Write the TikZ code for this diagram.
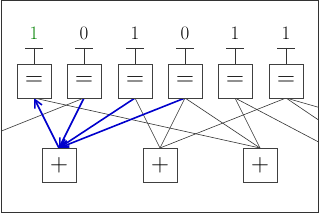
\documentclass[tikz,border=0pt]{standalone}
\usetikzlibrary{arrows.meta}
\begin{document}
\begin{tikzpicture}[x=1pt,y=-1pt,
  eqbox/.style={draw=black!75,line width=0.8pt,minimum size=34pt,inner sep=0pt,fill=white},
  chkbox/.style={draw=black!75,line width=0.8pt,minimum size=34pt,inner sep=0pt,fill=white},
  sym/.style={font=\fontsize{26}{26}\selectfont},
  bit/.style={font=\fontsize{19}{19}\selectfont},
  edge/.style={black!80,line width=0.6pt},
  msg/.style={blue!80!black,line width=1.6pt,-{Straight Barb[length=8pt,width=8pt]}},
  stem/.style={black!80,line width=0.8pt}]
\useasboundingbox (0,0) rectangle (320,213);
\draw[black!80,line width=0.8pt] (1,0.5) rectangle (318.5,212);
\foreach \i/\x/\b/\c in {1/34/1/green!50!black,2/84/0/black,3/135/1/black,4/185/0/black,5/235/1/black,6/286/1/black}{
  \node[bit,text=\c] (b\i) at (\x,33) {\b};
  \coordinate (tl\i) at (\x-9,48);
  \coordinate (tr\i) at (\x+9,48);
  \coordinate (tm\i) at (\x,48);
}
\foreach \i/\x in {1/59,2/160,3/260}{
  \coordinate (cpos\i) at (\x,165);
}
\coordinate (c0) at (-41,148);
\coordinate (c4a) at (330,148);
\coordinate (c4) at (360,148);
\coordinate (c5) at (461,148);
\begin{scope}
\clip (1,0.5) rectangle (318.5,212);
\foreach \i/\x in {1/34,2/84,3/135,4/185,5/235,6/286}{\coordinate (e\i) at (\x,98);}
\foreach \i/\x in {1/59,2/160,3/260}{\coordinate (k\i) at (\x,148);}
\draw[edge] (e1) -- (k3);
\draw[edge] (e2) -- (c0);
\draw[edge] (e3) -- (k2);
\draw[edge] (e4) -- (k2);
\draw[edge] (e4) -- (k3);
\draw[edge] (e5) -- (k3);
\draw[edge] (e5) -- (c4a);
\draw[edge] (e6) -- (k2);
\draw[edge] (e6) -- (c4);
\draw[edge] (e6) -- (c5);
\draw[msg] (k1) -- (e1);
\draw[msg] (e2) -- (k1);
\draw[msg] (e3) -- (k1);
\draw[msg] (e4) -- (k1);
\end{scope}
\foreach \i/\x in {1/34,2/84,3/135,4/185,5/235,6/286}{
  \draw[stem] (tl\i) -- (tr\i);
  \node[eqbox] (eq\i) at (\x,81) {};
  \node[sym] at (eq\i) {$=$};
  \draw[stem] (tm\i) -- (eq\i.north);
}
\foreach \i in {1,2,3}{
  \node[chkbox] (ck\i) at (cpos\i) {};
  \node[sym] at (ck\i) {$+$};
}
\end{tikzpicture}
\end{document}
